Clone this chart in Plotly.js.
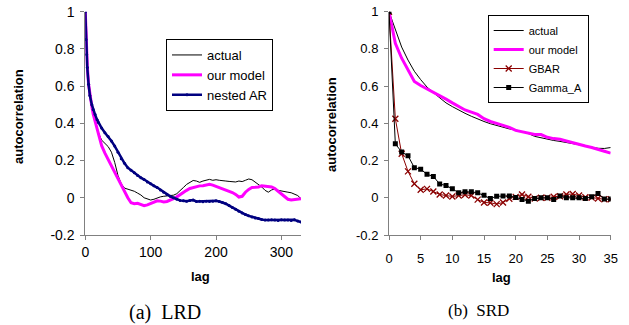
<!DOCTYPE html>
<html>
<head>
<meta charset="utf-8">
<script src="https://cdn.plot.ly/plotly-3.0.1.min.js"></script>
<style>
html,body{margin:0;padding:0;background:#fff;}
#chart{width:629px;height:325px;}
</style>
</head>
<body>
<div id="chart"></div>
<script>
// ---------- (a) LRD data ----------
const lagL = [0,1,2,3,5,7,10,12,15,18,20,25,30,35,40,45,50,55,60,65,70,75,80,85,90,95,100,105,110,115,120,125,130,135,140,145,150,155,160,165,170,175,180,185,190,195,200,205,210,215,220,225,230,235,240,245,250,255,260,265,270,275,280,285,290,295,300,305,310,315,320,325,330];
const actualL = [1.0,0.87,0.79,0.72,0.62,0.56,0.5,0.46,0.42,0.37,0.35,0.31,0.29,0.275,0.245,0.19,0.12,0.075,0.052,0.046,0.042,0.035,0.025,0.015,0.0,-0.008,-0.012,-0.008,0.0,0.005,0.008,0.009,0.012,0.014,0.022,0.036,0.055,0.072,0.085,0.093,0.09,0.083,0.09,0.095,0.099,0.094,0.097,0.094,0.09,0.09,0.088,0.086,0.085,0.09,0.087,0.094,0.101,0.097,0.085,0.07,0.058,0.04,0.03,0.042,0.048,0.04,0.038,0.035,0.03,0.027,0.02,0.012,-0.005];
const modelL = [1.0,0.86,0.78,0.71,0.61,0.55,0.49,0.45,0.41,0.365,0.335,0.28,0.24,0.205,0.17,0.135,0.1,0.065,0.03,0.0,-0.027,-0.032,-0.03,-0.035,-0.042,-0.038,-0.03,-0.024,-0.016,-0.018,-0.022,-0.02,-0.014,-0.005,0.005,0.018,0.028,0.04,0.05,0.056,0.062,0.064,0.065,0.07,0.072,0.068,0.062,0.055,0.048,0.042,0.038,0.028,0.018,0.004,0.008,0.03,0.045,0.055,0.056,0.058,0.065,0.062,0.06,0.058,0.05,0.035,0.02,0.004,-0.008,-0.012,-0.01,-0.008,-0.005];
const nestedL = [1.0,0.85,0.77,0.7,0.61,0.55,0.5,0.475,0.447,0.42,0.405,0.375,0.35,0.33,0.305,0.278,0.245,0.21,0.185,0.162,0.148,0.135,0.12,0.108,0.098,0.085,0.075,0.064,0.055,0.042,0.03,0.018,0.008,0.0,-0.008,-0.014,-0.016,-0.018,-0.015,-0.012,-0.02,-0.019,-0.021,-0.018,-0.02,-0.018,-0.016,-0.02,-0.025,-0.032,-0.042,-0.052,-0.062,-0.072,-0.082,-0.09,-0.097,-0.103,-0.108,-0.112,-0.117,-0.12,-0.12,-0.118,-0.12,-0.122,-0.118,-0.12,-0.12,-0.122,-0.118,-0.125,-0.13];

// ---------- (b) SRD data ----------
const lagS = [0,1,2,3,4,5,6,7,8,9,10,11,12,13,14,15,16,17,18,19,20,21,22,23,24,25,26,27,28,29,30,31,32,33,34,35];
const actualS = [1.0,0.9,0.81,0.74,0.68,0.635,0.595,0.565,0.537,0.51,0.49,0.47,0.454,0.438,0.422,0.41,0.398,0.388,0.376,0.37,0.365,0.355,0.345,0.33,0.322,0.316,0.308,0.303,0.298,0.292,0.285,0.278,0.272,0.266,0.265,0.27];
const modelS = [1.0,0.83,0.75,0.69,0.625,0.603,0.585,0.57,0.55,0.53,0.51,0.49,0.472,0.46,0.448,0.425,0.41,0.4,0.39,0.378,0.362,0.355,0.348,0.34,0.34,0.325,0.318,0.314,0.305,0.295,0.285,0.278,0.27,0.262,0.25,0.24];
const gbarS = [1.0,0.425,0.237,0.142,0.075,0.043,0.048,0.034,0.018,0.012,0.007,0.012,0.016,0.012,-0.01,-0.025,-0.027,-0.034,-0.025,-0.005,0.005,0.018,0.006,-0.004,0.0,0.0,0.006,0.008,0.018,0.02,0.012,0.003,0.001,-0.004,-0.008,-0.008];
const gammaS = [1.0,0.29,0.246,0.226,0.162,0.154,0.126,0.115,0.074,0.066,0.048,0.027,0.032,0.032,0.027,0.013,-0.004,0.008,0.009,0.01,0.002,-0.009,-0.018,-0.004,0.0,0.0,-0.009,0.009,0.0,0.0,0.0,-0.004,0.005,0.023,-0.007,-0.007];

// ---------- tick labels ----------
const yTickVals = [-0.2,0,0.2,0.4,0.6,0.8,1];
const yTickText = ["-0.2","0","0.2","0.4","0.6","0.8","1"];
const xTickValsL = [0,100,200,300];
const xTickValsS = [0,5,10,15,20,25,30,35];

const SANS = "Liberation Sans, Arial, sans-serif";
const SERIF = "Liberation Serif, Times New Roman, serif";

const traces = [
  {x: lagL, y: actualL, name: "actual", mode: "lines", line: {color: "#000000", width: 1}, xaxis: "x", yaxis: "y", legend: "legend"},
  {x: lagL, y: modelL, name: "our model", mode: "lines", line: {color: "#FF00FF", width: 3}, xaxis: "x", yaxis: "y", legend: "legend"},
  {x: lagL, y: nestedL, name: "nested AR", mode: "lines+markers", line: {color: "#000080", width: 2.5}, marker: {color: "#000080", size: 3}, xaxis: "x", yaxis: "y", legend: "legend"},
  {x: lagS, y: actualS, name: "actual", mode: "lines", line: {color: "#000000", width: 1}, xaxis: "x2", yaxis: "y2", legend: "legend2"},
  {x: lagS, y: modelS, name: "our model", mode: "lines", line: {color: "#FF00FF", width: 3}, xaxis: "x2", yaxis: "y2", legend: "legend2"},
  {x: lagS, y: gbarS, name: "GBAR", mode: "lines+markers", line: {color: "#8B0000", width: 1}, marker: {symbol: "x-thin-open", size: 6, color: "#8B0000", line: {color: "#8B0000", width: 1.3}}, xaxis: "x2", yaxis: "y2", legend: "legend2"},
  {x: lagS, y: gammaS, name: "Gamma_A", mode: "lines+markers", line: {color: "#000000", width: 1}, marker: {symbol: "square", size: 5, color: "#000000"}, xaxis: "x2", yaxis: "y2", legend: "legend2"}
];

const axisCommon = {
  showline: true, linecolor: "#808080", linewidth: 1,
  ticks: "outside", ticklen: 4, tickcolor: "#808080", tickwidth: 1,
  showgrid: false, zeroline: false, fixedrange: true,
  tickfont: {family: SANS, size: 14, color: "#000"}
};

const layout = {
  width: 629, height: 325,
  margin: {l: 0, r: 0, t: 0, b: 0},
  paper_bgcolor: "#fff", plot_bgcolor: "#fff",
  showlegend: true,
  xaxis: Object.assign({}, axisCommon, {domain: [85.3/629, 301/629], range: [0, 330], tickmode: "array", tickvals: xTickValsL, anchor: "y"}),
  yaxis: Object.assign({}, axisCommon, {domain: [1-235/325, 1-11.7/325], range: [-0.2, 1], tickmode: "array", tickvals: yTickVals, ticktext: yTickText, anchor: "x", ticklabelstandoff: 3}),
  xaxis2: Object.assign({}, axisCommon, {domain: [389/629, 610.7/629], range: [0, 35], tickmode: "array", tickvals: xTickValsS, anchor: "y2", ticklabelstandoff: 7, tickfont: {family: SANS, size: 13, color: "#000"}}),
  yaxis2: Object.assign({}, axisCommon, {domain: [1-235/325, 1-11.7/325], range: [-0.2, 1], tickmode: "array", tickvals: yTickVals, ticktext: yTickText, anchor: "x2", ticklabelstandoff: 3, tickfont: {family: SANS, size: 13, color: "#000"}}),
  legend: {x: 166/629, y: 1-39/325, xanchor: "left", yanchor: "top", bgcolor: "#fff", bordercolor: "#000", borderwidth: 1, font: {family: SANS, size: 13, color: "#000"}, itemwidth: 30, tracegroupgap: 0},
  legend2: {x: 487.7/629, y: 1-15/325, xanchor: "left", yanchor: "top", bgcolor: "#fff", bordercolor: "#000", borderwidth: 1, font: {family: SANS, size: 11, color: "#000"}, itemwidth: 30, tracegroupgap: 0},
  annotations: [
    {text: "<b>autocorrelation</b>", textangle: -90, x: 18/629, y: 1-117/325, xref: "paper", yref: "paper", xanchor: "center", yanchor: "middle", showarrow: false, font: {family: SANS, size: 13, color: "#000"}},
    {text: "<b>autocorrelation</b>", textangle: -90, x: 332/629, y: 1-125/325, xref: "paper", yref: "paper", xanchor: "center", yanchor: "middle", showarrow: false, font: {family: SANS, size: 13, color: "#000"}},
    {text: "<b>lag</b>", x: 200/629, y: 1-276/325, xref: "paper", yref: "paper", xanchor: "center", yanchor: "middle", showarrow: false, font: {family: SANS, size: 13, color: "#000"}},
    {text: "<b>lag</b>", x: 501.7/629, y: 1-277/325, xref: "paper", yref: "paper", xanchor: "center", yanchor: "middle", showarrow: false, font: {family: SANS, size: 13, color: "#000"}},
    {text: "(a)&nbsp;&nbsp;LRD", x: 164.5/629, y: 1-312/325, xref: "paper", yref: "paper", xanchor: "center", yanchor: "middle", showarrow: false, font: {family: SERIF, size: 20, color: "#000"}},
    {text: "(b)&nbsp;&nbsp;SRD", x: 478/629, y: 1-310/325, xref: "paper", yref: "paper", xanchor: "center", yanchor: "middle", showarrow: false, font: {family: SERIF, size: 17, color: "#000"}}
  ]
};

Plotly.newPlot("chart", traces, layout, {displayModeBar: false, staticPlot: true});
</script>
</body>
</html>
